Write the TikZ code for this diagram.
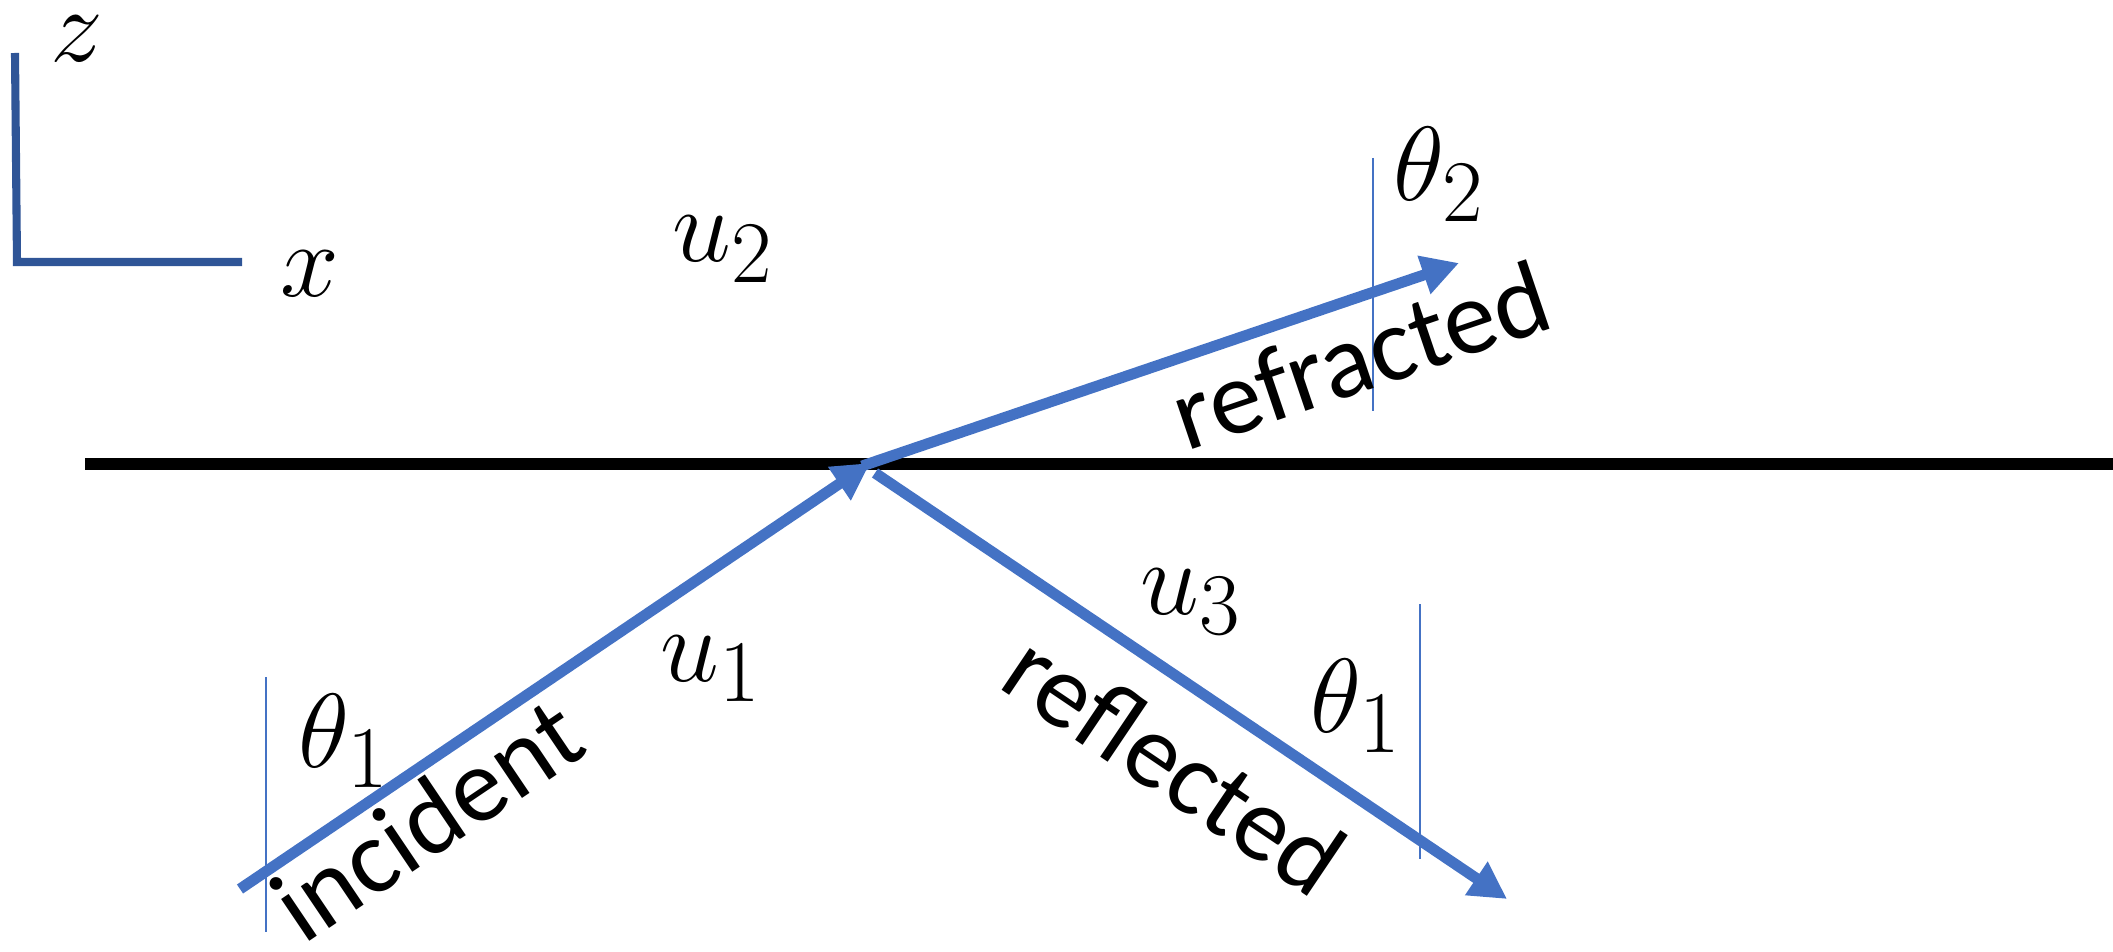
\documentclass[tikz,border=0pt]{standalone}
\usepackage{fontspec}
\newfontfamily\calibri{Carlito}
\usetikzlibrary{arrows.meta}
\definecolor{ray}{HTML}{4472C4}
\definecolor{axis}{HTML}{2F5597}
\tikzset{
  rayline/.style={draw=ray, line width=3.1pt, -{Triangle[length=0.37cm,width=0.38cm]}},
  normalline/.style={draw=ray, line width=0.6pt},
  lbl/.style={inner sep=0pt, font=\calibri\fontsize{30}{36}\selectfont},
  mlbl/.style={inner sep=0pt, font=\Huge, scale=1.206, anchor=base west},
}
\begin{document}
\begin{tikzpicture}[x=0.01cm, y=-0.01cm]
\useasboundingbox (0,0) rectangle (2113,952);
% axes
\coordinate (zt) at (15,53);
\coordinate (org) at (17,262);
\coordinate (xe) at (242,262);
\draw[axis, line width=2.3pt, miter limit=10] (zt) -- (org) -- (xe);
\node[mlbl] (zl) at (50,62) {$z$};
\node[mlbl] (xl) at (280,297) {$x$};
% interface
\coordinate (iL) at (85,464);
\coordinate (iR) at (2113,464);
\draw[line width=3.4pt] (iL) -- (iR);
% normals
\coordinate (n1t) at (266,677); \coordinate (n1b) at (266,932);
\coordinate (n2t) at (1373,158); \coordinate (n2b) at (1373,411);
\coordinate (n3t) at (1420,604); \coordinate (n3b) at (1420,859);
\draw[normalline] (n1t) -- (n1b);
\draw[normalline] (n2t) -- (n2b);
\draw[normalline] (n3t) -- (n3b);
% rays
\coordinate (src) at (240,889);
\coordinate (hit) at (870,463);
\coordinate (rs) at (862,466);
\coordinate (rt) at (1459,263);
\coordinate (fs) at (875,473);
\coordinate (ft) at (1507,899);
\draw[rayline] (src) -- (hit);
\draw[rayline] (rs) -- (rt);
\draw[rayline] (fs) -- (ft);
% labels
\node[lbl, rotate=34, anchor=base west] (inc) at (303,946) {incident};
\node[lbl, rotate=18.7, anchor=base west] (ref) at (1186,452) {refracted};
\node[lbl, rotate=-34, anchor=base west] (rfl) at (996,686) {reflected};
\node[mlbl] (th1a) at (298,767) {$\theta_1$};
\node[mlbl] (th1b) at (1310,732) {$\theta_1$};
\node[mlbl] (th2) at (1393,201) {$\theta_2$};
\node[mlbl] (u1) at (660,681) {$u_1$};
\node[mlbl] (u2) at (672,262) {$u_2$};
\node[mlbl] (u3) at (1140,614) {$u_3$};
\end{tikzpicture}
\end{document}
